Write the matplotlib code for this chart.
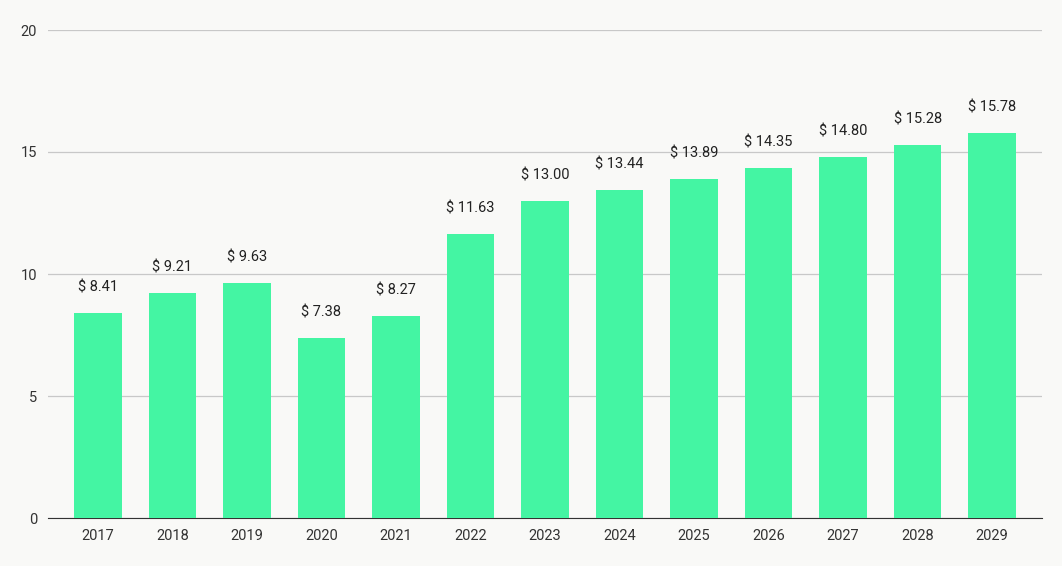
import matplotlib.pyplot as plt

years = ['2017', '2018', '2019', '2020', '2021', '2022', '2023',
         '2024', '2025', '2026', '2027', '2028', '2029']
values = [8.41, 9.21, 9.63, 7.38, 8.27, 11.63, 13.00,
          13.44, 13.89, 14.35, 14.80, 15.28, 15.78]
yticks = [0, 5, 10, 15, 20]

plt.rcParams['font.family'] = ['Roboto', 'DejaVu Sans']
bg = '#f9f9f7'

fig = plt.figure(figsize=(10.62, 5.66), dpi=100, facecolor=bg)
ax = fig.add_axes([48 / 1062, 48 / 566, 994 / 1062, 488 / 566])
ax.set_facecolor(bg)

x = range(len(years))
ax.bar(x, values, width=0.64, color='#44f5a3', zorder=3)
for i, v in zip(x, values):
    ax.text(i, v + 0.75, f'$ {v:.2f}', ha='center', va='bottom', fontsize=10.5, color='#222222')

ax.set_xlim(-0.67, len(years) - 0.33)
ax.set_ylim(0, 20)
ax.set_yticks(yticks)
ax.set_xticks(list(x))
ax.set_xticklabels(years)
ax.grid(axis='y', color='#c8c8c8', linewidth=0.9, zorder=0)
for s in ['top', 'right', 'left']:
    ax.spines[s].set_visible(False)
ax.spines['bottom'].set_color('#333333')
ax.tick_params(axis='both', length=0, labelsize=10.5, colors='#333333')
ax.tick_params(axis='y', pad=8)
ax.tick_params(axis='x', pad=8)
for lbl in ax.get_yticklabels():
    lbl.set_horizontalalignment('right')

fig.savefig('out.png', dpi=100, facecolor=bg)
